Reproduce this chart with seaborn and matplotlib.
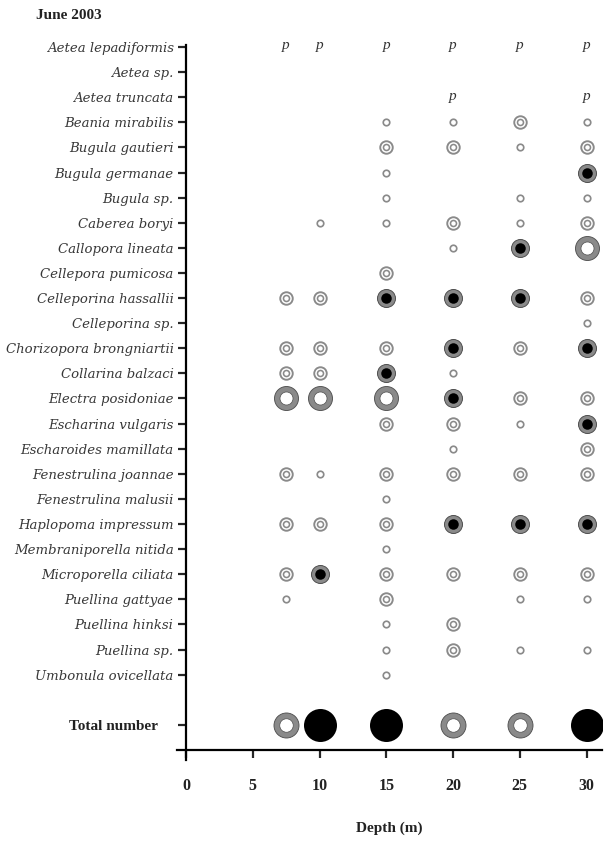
import matplotlib
matplotlib.use("Agg")
import matplotlib.pyplot as plt
import seaborn as sns
import pandas as pd

# Bryozoan species recorded in June 2003
species = [
    "Aetea lepadiformis", "Aetea sp.", "Aetea truncata", "Beania mirabilis",
    "Bugula gautieri", "Bugula germanae", "Bugula sp.", "Caberea boryi",
    "Callopora lineata", "Cellepora pumicosa", "Celleporina hassallii",
    "Celleporina sp.", "Chorizopora brongniartii", "Collarina balzaci",
    "Electra posidoniae", "Escharina vulgaris", "Escharoides mamillata",
    "Fenestrulina joannae", "Fenestrulina malusii", "Haplopoma impressum",
    "Membraniporella nitida", "Microporella ciliata", "Puellina gattyae",
    "Puellina hinksi", "Puellina sp.", "Umbonula ovicellata",
]

depths = [7.5, 10, 15, 20, 25, 30]

# Abundance class per species at each depth: "" absent, "p" present, 1-4 class
abund_7_5 = ["p", "", "", "", "", "", "", "", "", "", "2", "", "2", "2", "4", "",
             "", "2", "", "2", "", "2", "1", "", "", ""]
abund_10 = ["p", "", "", "", "", "", "", "1", "", "", "2", "", "2", "2", "4", "",
            "", "1", "", "2", "", "3", "", "", "", ""]
abund_15 = ["p", "", "", "1", "2", "1", "1", "1", "", "2", "3", "", "2", "3", "4", "2",
            "", "2", "1", "2", "1", "2", "2", "1", "1", "1"]
abund_20 = ["p", "", "p", "1", "2", "", "", "2", "1", "", "3", "", "3", "1", "3", "2",
            "1", "2", "", "3", "", "2", "", "2", "2", ""]
abund_25 = ["p", "", "", "2", "1", "", "1", "1", "3", "", "3", "", "2", "", "2", "1",
            "", "2", "", "3", "", "2", "1", "", "1", ""]
abund_30 = ["p", "", "p", "1", "2", "3", "1", "2", "4", "", "2", "1", "3", "", "2", "3",
            "2", "2", "", "3", "", "2", "1", "", "1", ""]

# Total number of species class at each depth
total_class = ["T1", "T2", "T2", "T1", "T1", "T2"]

x_ticks = [0, 5, 10, 15, 20, 25, 30]

GRAY = "#8a8a8a"
DARK = "#505050"

# Concentric layers for each symbol: (diameter px, face, edge, edge width px)
symbol_layers = {
    "1": [(6.5, "white", GRAY, 1.7)],
    "2": [(12.5, "white", GRAY, 1.9), (6.0, "white", GRAY, 1.6)],
    "3": [(18.0, GRAY, DARK, 1.0), (10.5, "black", "black", 0.0)],
    "4": [(24.0, GRAY, DARK, 0.9), (13.0, "white", DARK, 0.7)],
    "T1": [(25.0, GRAY, DARK, 0.9), (13.5, "white", DARK, 0.7)],
    "T2": [(33.0, "black", "black", 0.0)],
}

PT = 0.72  # points per pixel at 100 dpi

# Long-form table
cols = [abund_7_5, abund_10, abund_15, abund_20, abund_25, abund_30]
records = []
for d, col in zip(depths, cols):
    for i, code in enumerate(col):
        if code:
            records.append({"depth": d, "row": i, "code": code})
total_row = len(species) + 1
for d, code in zip(depths, total_class):
    records.append({"depth": d, "row": total_row, "code": code})
df = pd.DataFrame(records)

sns.set_style("ticks")
plt.rcParams["font.family"] = ["DejaVu Serif", "DejaVu Sans"]

fig = plt.figure(figsize=(6.06, 8.42), dpi=100)
ax = fig.add_axes([0.2916, 0.0974, 0.7018, 0.8497])

marks = df[df["code"] != "p"]
for code, layers in symbol_layers.items():
    sub = marks[marks["code"] == code]
    if sub.empty:
        continue
    for diam, face, edge, lw in layers:
        sns.scatterplot(data=sub, x="depth", y="row", ax=ax, marker="o",
                        s=(diam * PT) ** 2, color=face, edgecolor=edge,
                        linewidth=lw * PT, legend=False, zorder=3)

for _, r in df[df["code"] == "p"].iterrows():
    ax.text(r["depth"], r["row"] - 0.05, "p", ha="center", va="center",
            fontsize=11, fontstyle="italic", family="Liberation Serif",
            color="#333333")

ax.set_xlim(-0.7, 31.16)
ax.set_ylim(28.4, -0.1)

for side in ("top", "right"):
    ax.spines[side].set_visible(False)
ax.spines["left"].set_position(("data", 0))
ax.spines["bottom"].set_position(("data", 28))
for side in ("left", "bottom"):
    ax.spines[side].set_linewidth(1.6)
    ax.spines[side].set_color("black")

ax.set_xticks(x_ticks)
ax.set_xticklabels([str(t) for t in x_ticks], family="Liberation Serif",
                   fontweight="bold", fontsize=11.5, color="#222222")
ax.tick_params(axis="x", direction="out", length=6, width=1.6, pad=14)

yt = list(range(len(species))) + [total_row]
ax.set_yticks(yt)
ax.set_yticklabels(species + ["Total number    "], fontsize=9.5,
                   fontstyle="italic", color="#383838")
lbl = ax.get_yticklabels()[-1]
lbl.set_fontstyle("normal")
lbl.set_fontweight("bold")
lbl.set_family("Liberation Serif")
lbl.set_fontsize(11)
lbl.set_color("#222222")
ax.tick_params(axis="y", direction="out", length=6, width=1.6, pad=3)

ax.set_xlabel("Depth (m)", family="Liberation Serif", fontweight="bold",
              fontsize=11, labelpad=20, color="#222222")
ax.set_ylabel("")

fig.text(0.114, 0.982, "June 2003", ha="center", va="center",
         family="Liberation Serif", fontweight="bold", fontsize=11,
         color="#222222")

fig.savefig("out.png", dpi=100, facecolor="white")
